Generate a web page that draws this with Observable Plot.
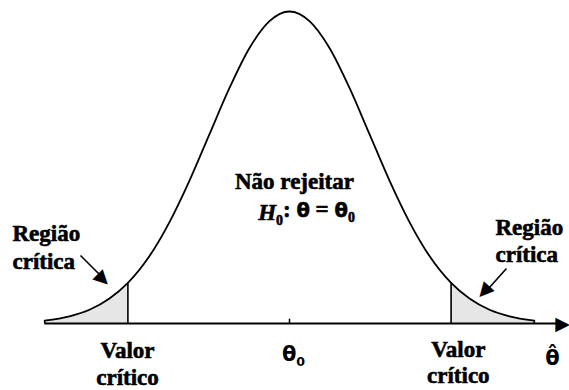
<!DOCTYPE html>
<html><head><meta charset="utf-8">
<script src="https://cdn.jsdelivr.net/npm/d3@7"></script>
<script src="https://cdn.jsdelivr.net/npm/@observablehq/plot@0.6"></script>
<style>body{margin:0;background:#fff}</style>
</head><body><div id="chart"></div>
<script>
// Curve (standardised theta-hat) and relative density heights
const zValues = [-3.06, -2.75, -2.5, -2.25, -2.02, -1.75, -1.5, -1.25, -1, -0.75, -0.5, -0.25, 0, 0.25, 0.5, 0.75, 1, 1.25, 1.5, 1.75, 2.02, 2.25, 2.5, 2.75, 3.06];
const heights = [0.009, 0.023, 0.044, 0.080, 0.130, 0.216, 0.325, 0.458, 0.607, 0.755, 0.883, 0.969, 1, 0.969, 0.883, 0.755, 0.607, 0.458, 0.325, 0.216, 0.130, 0.080, 0.044, 0.023, 0.009];
const criticalZ = [-2.02, 2.02];
const axisRange = [-3.06, 3.42];

// Labels
const regionLabels = ["Região\ncrítica", "Região\ncrítica"];
const regionX = [-3.4625, 2.575];
const regionY = [0.247, 0.269];
const valueLabels = ["Valor\ncrítico", "Valor\ncrítico"];
const valueX = [-2.025, 2.11];
const valueY = [-0.127, -0.122];
const centreLabels = ["Não rejeitar", "H0: θ = θ0"];
const centreX = [0.0625, 0.2125];
const centreY = [0.456, 0.354];
const tickLabels = ["θ0", "θ̂"];
const tickX = [0.05, 3.2875];
const tickY = [-0.099, -0.112];

// Pointer arrows (tail -> tip)
const arrowFromX = [-2.6125, 2.7125];
const arrowFromY = [0.2179, 0.1763];
const arrowToX = [-2.2625, 2.3875];
const arrowToY = [0.1282, 0.0833];

const W = 569, H = 390;
const xDomain = [-3.6125, 3.5];
const mTop = 11, mBottom = 67;
const pxX = W / (xDomain[1] - xDomain[0]);
const pxY = (H - mTop - mBottom) / 1;

const curve = zValues.map((z, i) => ({z, h: heights[i]}));
const leftTail = curve.filter(d => d.z <= criticalZ[0]);
const rightTail = curve.filter(d => d.z >= criticalZ[1]);
const crit = criticalZ.map(z => ({z, h: heights[zValues.indexOf(z)]}));

const arrows = arrowFromX.map((x1, i) => {
  const dx = (arrowToX[i] - x1) * pxX, dy = -(arrowToY[i] - arrowFromY[i]) * pxY;
  const len = Math.hypot(dx, dy), ux = dx / len, uy = dy / len;
  const back = 7;
  return {
    x1, y1: arrowFromY[i],
    x2: arrowToX[i] - ux * back / pxX, y2: arrowToY[i] + uy * back / pxY,
    hx: arrowToX[i] - ux * back / pxX, hy: arrowToY[i] + uy * back / pxY,
    angle: Math.atan2(dy, dx) * 180 / Math.PI
  };
});
arrows.push({x1: axisRange[1], y1: 0, x2: axisRange[1], y2: 0, hx: xDomain[1] - 7 / pxX, hy: 0, angle: 0});

const serif = "'Liberation Serif', 'Times New Roman', serif";
const fs = 23;
const heavy = {stroke: "black", strokeWidth: 0.6};

const chart = Plot.plot({
  width: W, height: H,
  marginLeft: 0, marginRight: 0, marginTop: mTop, marginBottom: mBottom,
  x: {domain: xDomain, axis: null},
  y: {domain: [0, 1], axis: null},
  marks: [
    Plot.areaY(leftTail, {x: "z", y: "h", fill: "#e6e6e6", curve: "monotone-x"}),
    Plot.areaY(rightTail, {x: "z", y: "h", fill: "#e6e6e6", curve: "monotone-x"}),
    Plot.ruleY([0], {x1: axisRange[0], x2: axisRange[1], stroke: "black", strokeWidth: 1.8}),
    Plot.ruleX([0], {y1: 0, y2: 0.014, stroke: "black", strokeWidth: 1.5}),
    Plot.ruleX(crit, {x: "z", y1: 0, y2: "h", stroke: "black", strokeWidth: 1.6}),
    Plot.ruleX([curve[0], curve[curve.length - 1]], {x: "z", y1: 0, y2: "h", stroke: "black", strokeWidth: 1.6}),
    Plot.line(curve, {x: "z", y: "h", stroke: "black", strokeWidth: 1.8, curve: "monotone-x"}),
    Plot.link(arrows.slice(0, 2), {x1: "x1", y1: "y1", x2: "x2", y2: "y2", stroke: "black", strokeWidth: 1.6}),
    Plot.text(arrows, {x: "hx", y: "hy", text: () => "▶", rotate: "angle", fontSize: 19, fontFamily: "'DejaVu Sans', sans-serif", fill: "black"}),
    Plot.text(regionLabels, {x: (d, i) => regionX[i], y: (d, i) => regionY[i], text: d => d, textAnchor: "start", fontSize: fs, fontWeight: "bold", fontFamily: serif, lineHeight: 1.2, fill: "black", ...heavy}),
    Plot.text(valueLabels, {x: (d, i) => valueX[i], y: (d, i) => valueY[i], text: d => d, fontSize: fs, fontWeight: "bold", fontFamily: serif, lineHeight: 1.15, fill: "black", ...heavy}),
    Plot.text(centreLabels, {x: (d, i) => centreX[i], y: (d, i) => centreY[i], text: d => d, fontSize: fs, fontWeight: "bold", fontFamily: serif, fill: "black", className: "centre", ...heavy}),
    Plot.text(tickLabels, {x: (d, i) => tickX[i], y: (d, i) => tickY[i], text: d => d, fontSize: 21, fontWeight: "bold", fontFamily: "'DejaVu Sans', sans-serif", fill: "black", className: "ticklab"})
  ]
});
document.getElementById("chart").appendChild(chart);

// Rich formatting: italic H and subscript zeros
const sub = s => `<tspan font-size="0.6em" dy="0.35em">${s}</tspan>`;
d3.select(chart).selectAll(".centre text").each(function() {
  const t = d3.select(this);
  if (t.text().startsWith("H0")) {
    t.html(`<tspan font-style="italic">H</tspan>${sub("0")}<tspan dy="-0.35em">: </tspan><tspan font-family="DejaVu Sans" font-size="0.85em">θ</tspan> = <tspan font-family="DejaVu Sans" font-size="0.85em">θ</tspan>${sub("0")}`);
  }
});
d3.select(chart).selectAll(".ticklab text").each(function() {
  const t = d3.select(this);
  if (t.text() === "θ0") t.html(`θ${sub("0")}`);
});
</script>
</body></html>
